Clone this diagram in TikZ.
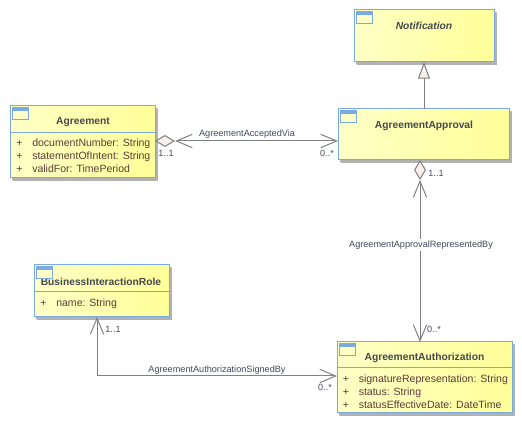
\documentclass[tikz,border=0pt]{standalone}
\usepackage{fontspec}
\setmainfont{Liberation Sans}
\usetikzlibrary{positioning,shadows,arrows.meta}

\definecolor{umlblue}{HTML}{7AAAE2}
\definecolor{umlpale}{HTML}{FFFFC6}
\definecolor{umlyellow}{HTML}{FFFF99}
\definecolor{umlline}{HTML}{808080}
\definecolor{umlhead}{HTML}{F8EEEA}
\definecolor{umltitle}{HTML}{47474F}
\definecolor{umlattr}{HTML}{5A3A3A}
\definecolor{umllabel}{HTML}{404858}

\newcommand{\attr}[1]{\makebox[12pt][l]{+}#1}

\begin{document}
\begin{tikzpicture}[
    x=0.75pt, y=-0.75pt,
    umlclass/.style={draw=umlblue, left color=umlpale, right color=umlyellow,
                     line width=0.75pt, inner sep=0pt, outer sep=0pt,
                     copy shadow={shadow xshift=2pt, shadow yshift=-2pt,
                                  draw=none, fill=black!30, left color=black!30, right color=black!30}},
    title/.style={font=\fontsize{7.7}{9}\selectfont\bfseries, text=umltitle, inner sep=0pt},
    attrs/.style={font=\fontsize{7.9}{9.75}\selectfont, text=umlattr, align=left, inner sep=0pt, anchor=north west},
    mult/.style={font=\fontsize{6.8}{8}\selectfont, text=umllabel, inner sep=0pt},
    assocname/.style={font=\fontsize{6.85}{8}\selectfont, text=umllabel, inner sep=1pt},
    divider/.style={draw=umlblue, line width=0.75pt},
    icon/.style={draw=umlblue, line width=0.75pt, fill=umlpale},
    iconband/.style={fill=umlblue},
    assoc/.style={draw=umlline, line width=0.75pt},
    aggregation/.style={assoc, {Diamond[length=15pt, width=9pt, fill=umlhead] . Straight Barb[length=12pt, width=10pt]}-{Straight Barb[length=12pt, width=10pt]}},
    navigable/.style={assoc, {Straight Barb[length=12pt, width=10pt]}-{Straight Barb[length=12pt, width=10pt]}},
    generalization/.style={assoc, -{Triangle[length=12.5pt, width=9pt, fill=umlhead]}}
]
\useasboundingbox (0,0) rectangle (522,424);

% Classes
\node[umlclass, minimum width=108.75pt, minimum height=54pt] (agreement) at (82.5,142) {};
\node[umlclass, minimum width=105pt, minimum height=39pt] (notification) at (424,36) {};
\node[umlclass, minimum width=128.25pt, minimum height=38.25pt] (approval) at (423.5,134.5) {};
\node[umlclass, minimum width=131.25pt, minimum height=53.25pt] (authorization) at (424.5,377.5) {};
\node[umlclass, minimum width=101.25pt, minimum height=39pt] (role) at (101.5,291) {};

% Titles
\node[title] (agreementName) at (83,122) {Agreement};
\node[title, font=\fontsize{7.7}{9}\selectfont\bfseries\itshape] (notificationName) at (424,25.5) {Notification};
\node[title] (approvalName) at (424,125.5) {AgreementApproval};
\node[title] (authorizationName) at (424.5,357.5) {AgreementAuthorization};
\node[title] (roleName) at (101,281.5) {BusinessInteractionRole};

% Attributes
\node[attrs] (agreementAttrs) at (16,138.5) {\attr{documentNumber: String}\\\attr{statementOfIntent: String}\\\attr{validFor: TimePeriod}};
\node[attrs] (authorizationAttrs) at (342.5,374.5) {\attr{signatureRepresentation: String}\\\attr{status: String}\\\attr{statusEffectiveDate: DateTime}};
\node[attrs] (roleAttrs) at (40,298.5) {\attr{name: String}};

% Compartment lines
\draw[divider] (agreement.west |- 0,133) -- (agreement.east |- 0,133);
\draw[divider] (authorization.west |- 0,368) -- (authorization.east |- 0,368);
\draw[divider] (role.west |- 0,292) -- (role.east |- 0,292);

% Class icons
\foreach \cls in {agreement,notification,approval,authorization,role} {
    \draw[icon] ([shift={(2,2)}]\cls.north west) rectangle ([shift={(18,14)}]\cls.north west);
    \fill[iconband] ([shift={(2,2)}]\cls.north west) rectangle ([shift={(18,5)}]\cls.north west);
}

% Associations
\draw[aggregation] ([yshift=0.75pt]agreement.east) -- ([yshift=0.75pt]agreement.east -| approval.west);
\draw[aggregation] (approval.south -| 420,0) -- (authorization.north -| 420,0);
\draw[navigable] (role.south -| 97,0) |- (authorization.west |- 0,376);
\draw[generalization] (approval.north -| 424,0) -- (notification.south -| 424,0);

% Association labels
\node[assocname] (acceptedVia) at (247,134) {AgreementAcceptedVia};
\node[assocname, fill=white] (representedBy) at (421,245) {AgreementApprovalRepresentedBy};
\node[assocname] (signedBy) at (217,370) {AgreementAuthorizationSignedBy};

% Multiplicities
\node[mult] (agreementMult) at (166,153) {1..1};
\node[mult] (acceptedMult) at (327,153) {0..*};
\node[mult] (approvalMult) at (436,173) {1..1};
\node[mult] (authorizationMult) at (434,329) {0..*};
\node[mult] (roleMult) at (113,329) {1..1};
\node[mult] (signedMult) at (325,387) {0..*};

\end{tikzpicture}
\end{document}
